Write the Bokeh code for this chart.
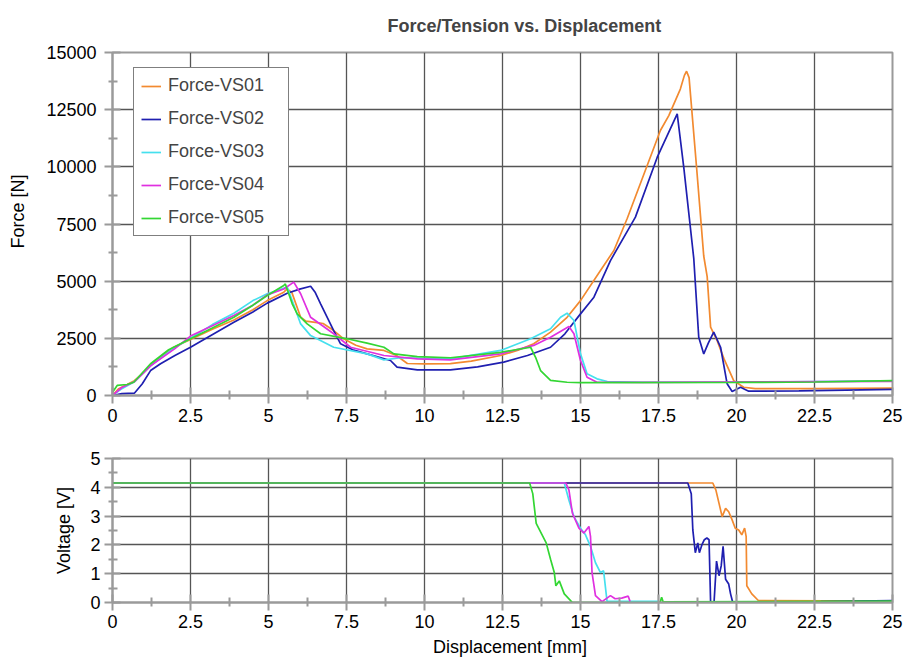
from bokeh.plotting import figure
from bokeh.models import Range1d, FixedTicker, Legend, LegendItem, Title
from bokeh.layouts import column
from bokeh.embed import file_html
from bokeh.resources import INLINE

# ---------------- data ----------------
title_text = "Force/Tension vs. Displacement"
series_names = ["Force-VS01", "Force-VS02", "Force-VS03", "Force-VS04", "Force-VS05"]
series_colors = ["#F28A30", "#1F1FB0", "#45E0EE", "#E030E0", "#33D633"]

x_ticks = [0, 2.5, 5, 7.5, 10, 12.5, 15, 17.5, 20, 22.5, 25]
x_tick_labels = ["0", "2.5", "5", "7.5", "10", "12.5", "15", "17.5", "20", "22.5", "25"]
x_minor = [1.25, 3.75, 6.25, 8.75, 11.25, 13.75, 16.25, 18.75, 21.25, 23.75]
f_ticks = [0, 2500, 5000, 7500, 10000, 12500, 15000]
f_tick_labels = ["0", "2500", "5000", "7500", "10000", "12500", "15000"]
f_minor = [1250, 3750, 6250, 8750, 11250, 13750]
v_ticks = [0, 1, 2, 3, 4, 5]
v_tick_labels = ["0", "1", "2", "3", "4", "5"]
v_minor = [0.5, 1.5, 2.5, 3.5, 4.5]

# Force curves (displacement mm, force N)
vs01_x = [0, 0.2, 0.47, 0.7, 1.0, 1.22, 1.6, 1.96, 2.5, 3.2, 3.89, 4.5, 4.96, 5.49, 5.6, 5.75,
          6.03, 6.2, 6.5, 6.75, 7.09, 7.41, 7.8, 8.16, 8.7, 9.1, 9.45, 10.0, 10.83, 11.5, 12.44,
          13.0, 13.5, 14.04, 14.57, 15.0, 15.64, 16.07, 16.5, 17.56, 17.83, 18.2, 18.33, 18.4, 18.48,
          18.72, 18.95, 19.06, 19.17, 19.38, 19.6, 19.91, 20.23, 20.6, 22.5, 25.0]
vs01_f = [0, 300, 480, 650, 1000, 1310, 1750, 2110, 2450, 2900, 3300, 3750, 4150, 4520, 4660, 4500,
          3420, 3250, 3200, 3150, 2840, 2480, 2200, 2040, 1970, 1750, 1400, 1380, 1390, 1500, 1750,
          1980, 2260, 2770, 3420, 4150, 5470, 6340, 7750, 11590, 12240, 13400, 14000, 14180, 13900,
          9980, 6100, 5200, 2990, 2400, 1600, 650, 360, 300, 300, 320]

vs02_x = [0, 0.3, 0.7, 0.95, 1.22, 1.54, 2.0, 2.5, 3.25, 3.89, 4.5, 4.96, 5.6, 6.0, 6.35, 6.5,
          6.67, 7.09, 7.31, 7.7, 8.16, 8.91, 9.12, 9.77, 10.83, 11.7, 12.54, 13.3, 14.04, 14.5,
          15.0, 15.43, 15.96, 16.76, 17.46, 18.1, 18.31, 18.63, 18.79, 18.95, 19.1, 19.27, 19.49,
          19.7, 19.86, 20.13, 20.39, 22.0, 25.0]
vs02_f = [0, 80, 100, 500, 1090, 1390, 1750, 2110, 2700, 3200, 3650, 4040, 4470, 4650, 4780, 4500,
          4010, 2840, 2260, 2000, 1820, 1530, 1240, 1120, 1120, 1250, 1460, 1750, 2110, 2700,
          3570, 4300, 5900, 7800, 10420, 12320, 9980, 6000, 2550, 1820, 2300, 2770, 2110,
          510, 175, 360, 190, 200, 270]

vs03_x = [0, 0.3, 0.7, 1.22, 2.0, 2.5, 3.2, 3.89, 4.5, 4.96, 5.3, 5.6, 5.8, 6.03, 6.35, 7.09,
          8.16, 8.7, 9.23, 10.83, 12.44, 13.4, 14.04, 14.36, 14.57, 14.79, 15.0, 15.21, 15.53,
          15.86, 17.0, 20.0, 25.0]
vs03_f = [0, 300, 600, 1300, 2100, 2500, 3100, 3600, 4150, 4450, 4600, 4740, 4000, 3130, 2620, 2110,
          1820, 1560, 1650, 1600, 1970, 2480, 2920, 3420, 3600, 3280, 1820, 950, 730,
          610, 580, 580, 640]

vs04_x = [0, 0.3, 0.7, 1.22, 2.0, 2.5, 3.2, 3.89, 4.5, 4.96, 5.49, 5.81, 6.03, 6.35, 7.09, 7.63,
          8.7, 9.77, 10.83, 12.44, 13.5, 14.04, 14.63, 14.79, 15.0, 15.21, 15.53, 17.0, 25.0]
vs04_f = [0, 350, 600, 1300, 2050, 2600, 3050, 3500, 3950, 4400, 4660, 4960, 4450, 3420, 2700, 2110,
          1750, 1600, 1560, 1820, 2190, 2550, 3020, 2700, 1530, 800, 580, 570, 620]

vs05_x = [0, 0.15, 0.47, 0.68, 1.22, 1.8, 2.5, 3.2, 3.89, 4.5, 4.96, 5.49, 5.54, 5.76, 5.92, 6.24,
          6.67, 7.52, 8.16, 8.7, 9.02, 9.77, 10.83, 12.44, 13.4, 13.56, 13.72, 14.04, 14.57, 15.0,
          20.0, 22.5, 25.0]
vs05_f = [140, 440, 480, 580, 1390, 2000, 2480, 2950, 3420, 3950, 4370, 4810, 4880, 4010, 3570, 3130,
          2700, 2480, 2290, 2110, 1820, 1700, 1650, 1890, 2110, 1670, 1090, 660, 580, 560,
          570, 590, 650]

# Voltage curves (displacement mm, voltage V)
vs01_vx = [0, 19.24, 19.34, 19.44, 19.54, 19.65, 19.75, 19.86, 19.96, 20.07, 20.17, 20.26, 20.31,
           20.33, 20.49, 20.7, 25.0]
vs01_v = [4.15, 4.15, 3.9, 3.44, 2.98, 3.27, 3.15, 2.87, 2.58, 2.52, 2.35, 2.58, 2.29,
          0.58, 0.3, 0.07, 0.05]
vs02_vx = [0, 18.44, 18.55, 18.6, 18.68, 18.76, 18.81, 18.89, 18.97, 19.05, 19.12, 19.17, 19.28,
           19.36, 19.44, 19.51, 19.57, 19.65, 19.75, 19.81, 19.88, 22.7, 25.0]
vs02_v = [4.15, 4.15, 3.78, 2.52, 1.73, 2.07, 1.73, 2.0, 2.18, 2.24, 2.18, 0.0, 0.0,
          1.44, 0.93, 1.27, 1.95, 0.81, 0.64, 0.3, 0.0, 0.03, 0.07]
vs03_vx = [0, 14.48, 14.63, 14.79, 15.0, 15.16, 15.32, 15.48, 15.64, 15.74, 15.85, 17.5]
vs03_v = [4.15, 4.15, 3.55, 2.98, 2.58, 2.35, 1.95, 1.38, 1.04, 1.1, 0.05, 0.04]
vs04_vx = [0, 14.53, 14.63, 14.74, 14.95, 15.11, 15.27, 15.32, 15.37, 15.48, 15.69, 15.96, 16.11,
           16.32, 16.53, 16.59]
vs04_v = [4.15, 4.15, 3.9, 3.1, 2.58, 2.41, 2.64, 2.3, 1.04, 0.24, 0.03, 0.24, 0.13,
          0.15, 0.22, 0.03]
vs05_vx = [0, 13.37, 13.47, 13.58, 13.9, 14.04, 14.16, 14.21, 14.32, 14.48, 14.74, 17.55, 17.6,
           17.65, 25.0]
vs05_v = [4.15, 4.15, 3.78, 2.75, 2.07, 1.5, 1.04, 0.58, 0.75, 0.3, 0.0, 0.0, 0.18,
          0.02, 0.05]

force_x = [vs01_x, vs02_x, vs03_x, vs04_x, vs05_x]
force_y = [vs01_f, vs02_f, vs03_f, vs04_f, vs05_f]
volt_x = [vs01_vx, vs02_vx, vs03_vx, vs04_vx, vs05_vx]
volt_y = [vs01_v, vs02_v, vs03_v, vs04_v, vs05_v]

FONT = "Liberation Sans"
GRID = "#555555"
AXC = "#9a9a9a"
NB = "\u00a0"


def style(p, xt, xl, xm, yt, yl, ym, x_std, y_std, xlab_std, ylab_std):
    p.background_fill_color = "white"
    p.border_fill_color = "white"
    p.outline_line_color = AXC
    p.outline_line_width = 2
    p.xaxis.ticker = FixedTicker(ticks=xt, minor_ticks=xm)
    p.yaxis.ticker = FixedTicker(ticks=yt, minor_ticks=ym)
    p.xaxis.major_label_overrides = {float(t): s for t, s in zip(xt, xl)}
    p.yaxis.major_label_overrides = {float(t): s for t, s in zip(yt, yl)}
    for ax in (p.xaxis[0], p.yaxis[0]):
        ax.axis_line_color = AXC
        ax.axis_line_width = 2
        ax.major_tick_line_color = AXC
        ax.major_tick_line_width = 2
        ax.minor_tick_line_color = AXC
        ax.minor_tick_line_width = 2
        ax.major_tick_in = 8
        ax.major_tick_out = 8
        ax.minor_tick_in = 5
        ax.minor_tick_out = 4
        ax.major_label_text_font = FONT
        ax.major_label_text_font_size = "18px"
        ax.major_label_text_color = "black"
        ax.axis_label_text_font = FONT
        ax.axis_label_text_font_size = "18px"
        ax.axis_label_text_font_style = "normal"
        ax.axis_label_text_color = "black"
    p.xaxis.major_label_standoff = x_std
    p.yaxis.major_label_standoff = y_std
    p.xaxis.axis_label_standoff = xlab_std
    p.yaxis.axis_label_standoff = ylab_std
    for g in (p.xgrid[0], p.ygrid[0]):
        g.grid_line_color = GRID
        g.grid_line_width = 1.3


# ---------------- force plot ----------------
p1 = figure(width=908, height=429, output_backend="svg", toolbar_location=None,
            x_range=Range1d(0, 25), y_range=Range1d(0, 15000),
            min_border_left=112, min_border_right=16, min_border_top=52, min_border_bottom=34)
p1.title = Title(text=title_text, align="left", offset=275, text_font=FONT,
                 text_font_size="18px", text_font_style="bold", standoff=30,
                 vertical_align="top")
style(p1, x_ticks, x_tick_labels, x_minor, f_ticks, f_tick_labels, f_minor, 5, 8, 0, 15)
p1.yaxis.axis_label = NB * 5 + "Force [N]"

items = []
for name, col, xs, ys in zip(series_names, series_colors, force_x, force_y):
    r = p1.line(xs, ys, line_color=col, line_width=1.7)
    items.append(LegendItem(label=name, renderers=[r]))

legend = Legend(items=items, location=(21, 159), border_line_color="black",
                border_line_width=1.5, label_text_font=FONT, label_text_font_size="18px",
                glyph_width=20, glyph_height=20, label_height=20, label_width=113,
                label_standoff=7, spacing=12, padding=7, margin=0,
                background_fill_color="white", background_fill_alpha=1.0)
p1.add_layout(legend)

# ---------------- voltage plot ----------------
p2 = figure(width=908, height=230, output_backend="svg", toolbar_location=None,
            x_range=Range1d(0, 25), y_range=Range1d(0, 5),
            min_border_left=109, min_border_right=11, min_border_top=29, min_border_bottom=55)
style(p2, x_ticks, x_tick_labels, x_minor, v_ticks, v_tick_labels, v_minor, 4, 4, 6, 13)
p2.yaxis.axis_label = "Voltage [V]"
p2.xaxis.axis_label = NB * 3 + "Displacement [mm]"
for col, xs, ys in zip(series_colors, volt_x, volt_y):
    p2.line(xs, ys, line_color=col, line_width=1.7)

layout = column(p1, p2, spacing=0)
open("out.html", "w").write(file_html(layout, INLINE))
